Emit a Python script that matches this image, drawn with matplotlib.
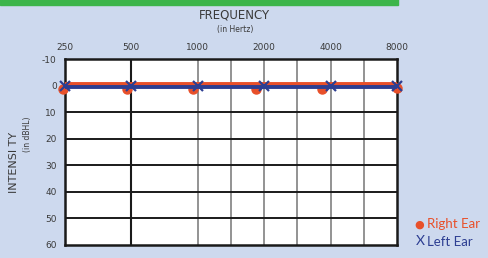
import numpy as np
import matplotlib.pyplot as plt

plt.rcParams["axes.unicode_minus"] = False

# Audiogram data
freqs = [250, 500, 1000, 2000, 4000, 8000]
freq_labels = ["250", "500", "1000", "2000", "4000", "8000"]
db_ticks = [-10, 0, 10, 20, 30, 40, 50, 60]

right_ear_freqs = [245, 480, 950, 1840, 3650, 8000]
right_ear_db = [1.2, 1.2, 1.2, 1.2, 1.2, 0.8]
right_line_db = [-0.7, -0.7, -0.7, -0.7, -0.7, -0.7]

left_ear_db = [0, 0, 0, 0, 0, 0]
left_line_db = [0.5, 0.5, 0.5, 0.5, 0.5, 0.5]

BG = "#cdd9ee"
RED = "#e8502a"
BLUE = "#2d3e92"
TXT = "#3a3a3a"

fig = plt.figure(figsize=(4.89, 2.58), dpi=100, facecolor=BG)
ax = fig.add_axes([0.1329, 0.0504, 0.679, 0.7209])
ax.set_facecolor("white")

ax.set_xscale("log", base=2)
ax.set_xlim(250, 8000)
ax.set_ylim(60, -10)

# grid: black at 500 and every 10 dB, grey at the half-octaves above 1000
ax.axvline(500, color="#1a1a1a", lw=1.5, zorder=1)
for f in [1000, np.sqrt(1000 * 2000), 2000, np.sqrt(2000 * 4000), 4000,
          np.sqrt(4000 * 8000)]:
    ax.axvline(f, color="#8a8a8a", lw=1.3, zorder=1)
for d in range(0, 60, 10):
    ax.axhline(d, color="#1a1a1a", lw=1.4, zorder=1)

for s in ax.spines.values():
    s.set_linewidth(1.8)
    s.set_color("#1a1a1a")

ax.plot(freqs, right_line_db, color=RED, lw=2.8, zorder=3)
ax.plot(freqs, left_line_db, color=BLUE, lw=2.8, zorder=4)
ax.plot(right_ear_freqs, right_ear_db, "o", color=RED, ms=6.5, zorder=3,
        clip_on=False)
ax.plot(freqs, left_ear_db, "x", color=BLUE, ms=7, mew=1.6, zorder=5,
        clip_on=False)

ax.set_xticks(freqs)
ax.set_xticklabels(freq_labels)
ax.xaxis.set_minor_locator(plt.NullLocator())
ax.xaxis.tick_top()
ax.set_yticks(db_ticks)
ax.tick_params(length=0, labelsize=6.5, labelcolor=TXT, pad=6)
ax.tick_params(axis="x", pad=5)

# green header bar
fig.patches.append(plt.Rectangle((0, 0.98), 0.814, 0.03,
                                 transform=fig.transFigure,
                                 color="#3cb54a", zorder=0))

fig.text(0.48, 0.94, "FREQUENCY", ha="center", va="center",
         fontsize=8.5, color=TXT)
fig.text(0.48, 0.887, "(in Hertz)", ha="center", va="center",
         fontsize=5.5, color=TXT)
fig.text(0.028, 0.37, "INTENSI TY", ha="center", va="center",
         rotation=90, fontsize=8, color=TXT)
fig.text(0.057, 0.48, "(in dBHL)", ha="center", va="center",
         rotation=90, fontsize=5.5, color=TXT)

fig.text(0.848, 0.13, "\u25cf", ha="left", va="center",
         fontsize=8, color=RED)
fig.text(0.874, 0.13, "Right Ear", ha="left", va="center",
         fontsize=9.5, color=RED, family="Lato")
fig.text(0.85, 0.065, "X", ha="left", va="center",
         fontsize=10, color=BLUE, family="Lato")
fig.text(0.874, 0.062, "Left Ear", ha="left", va="center",
         fontsize=9.5, color=BLUE, family="Lato")

fig.savefig("out.png", dpi=100, facecolor=BG)
